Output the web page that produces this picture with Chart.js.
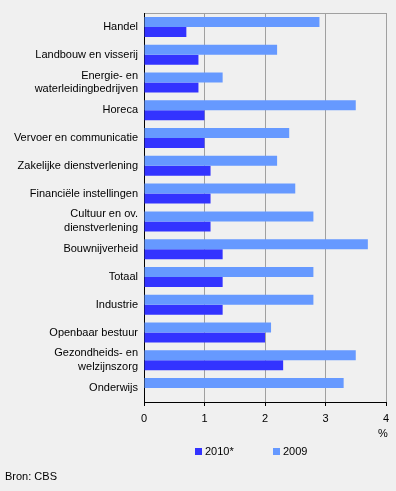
<!DOCTYPE html>
<html>
<head>
<meta charset="utf-8">
<script src="https://cdn.jsdelivr.net/npm/chart.js@4"></script>
<style>
  html, body { margin: 0; padding: 0; background: #F0F0F0; }
  #wrap { width: 396px; height: 491px; position: relative; }
</style>
</head>
<body>
<div id="wrap"><canvas id="c" width="396" height="491"></canvas></div>
<script>
const categories = [
  "Handel",
  "Landbouw en visserij",
  ["Energie- en", "waterleidingbedrijven"],
  "Horeca",
  "Vervoer en communicatie",
  "Zakelijke dienstverlening",
  "Financiële instellingen",
  ["Cultuur en ov.", "dienstverlening"],
  "Bouwnijverheid",
  "Totaal",
  "Industrie",
  "Openbaar bestuur",
  ["Gezondheids- en", "welzijnszorg"],
  "Onderwijs"
];
const values2009 = [2.9, 2.2, 1.3, 3.5, 2.4, 2.2, 2.5, 2.8, 3.7, 2.8, 2.8, 2.1, 3.5, 3.3];
const values2010 = [0.7, 0.9, 0.9, 1.0, 1.0, 1.1, 1.1, 1.1, 1.3, 1.3, 1.3, 2.0, 2.3, null];
const seriesNames = ["2009", "2010*"];
const xTicks = [0, 1, 2, 3, 4];
const unitLabel = "%";
const sourceText = "Bron: CBS";

const FONT = "'Liberation Sans', Arial, sans-serif";
Chart.defaults.font.family = FONT;
Chart.defaults.font.size = 11;
Chart.defaults.color = '#000';

const extras = {
  id: 'extras',
  afterDraw(chart) {
    const ctx = chart.ctx;
    ctx.save();
    ctx.font = "11px " + FONT;
    ctx.fillStyle = '#000';
    ctx.textBaseline = 'middle';
    // unit label
    ctx.textAlign = 'center';
    ctx.fillText(unitLabel, chart.chartArea.right - 3, 434);
    // legend (2010* first, then 2009)
    const order = [1, 0];
    const xs = [195, 273];
    ctx.textAlign = 'left';
    order.forEach((di, i) => {
      const ds = chart.data.datasets[di];
      ctx.fillStyle = ds.backgroundColor;
      ctx.fillRect(xs[i], 448, 7, 7);
      ctx.fillStyle = '#000';
      ctx.fillText(ds.label, xs[i] + 10, 452);
    });
    // source
    ctx.fillText(sourceText, 5, 477);
    ctx.restore();
  }
};

new Chart(document.getElementById('c'), {
  type: 'bar',
  data: {
    labels: categories,
    datasets: [
      { label: seriesNames[0], data: values2009, backgroundColor: '#6699FF',
        barPercentage: 1, categoryPercentage: 0.72 },
      { label: seriesNames[1], data: values2010, backgroundColor: '#3333FF',
        barPercentage: 1, categoryPercentage: 0.72 }
    ]
  },
  options: {
    indexAxis: 'y',
    responsive: false,
    animation: false,
    devicePixelRatio: 1,
    layout: { padding: { top: 13, right: 10, left: 0, bottom: 59 } },
    plugins: {
      legend: { display: false },
      tooltip: { enabled: false }
    },
    scales: {
      x: {
        min: 0, max: 4,
        afterFit(scale) { scale.height = 30; },
        afterBuildTicks(scale) { scale.ticks = xTicks.map(v => ({ value: v })); },
        ticks: { padding: 6, font: { size: 11 }, color: '#000' },
        grid: {
          color: (c) => c.index === 0 ? '#000' : '#A0A0A0',
          tickColor: '#000',
          tickLength: 4,
          lineWidth: 1
        },
        border: { color: '#000', width: 1 }
      },
      y: {
        afterFit(scale) { scale.width = 144; },
        ticks: { padding: 6, font: { size: 11, lineHeight: 1.27 }, color: '#000', autoSkip: false },
        grid: {
          drawTicks: false,
          offset: true,
          color: (c) => c.index === 0 ? '#A0A0A0' : 'rgba(0,0,0,0)'
        },
        border: { color: '#000', width: 1 }
      }
    }
  },
  plugins: [extras]
});
</script>
</body>
</html>
